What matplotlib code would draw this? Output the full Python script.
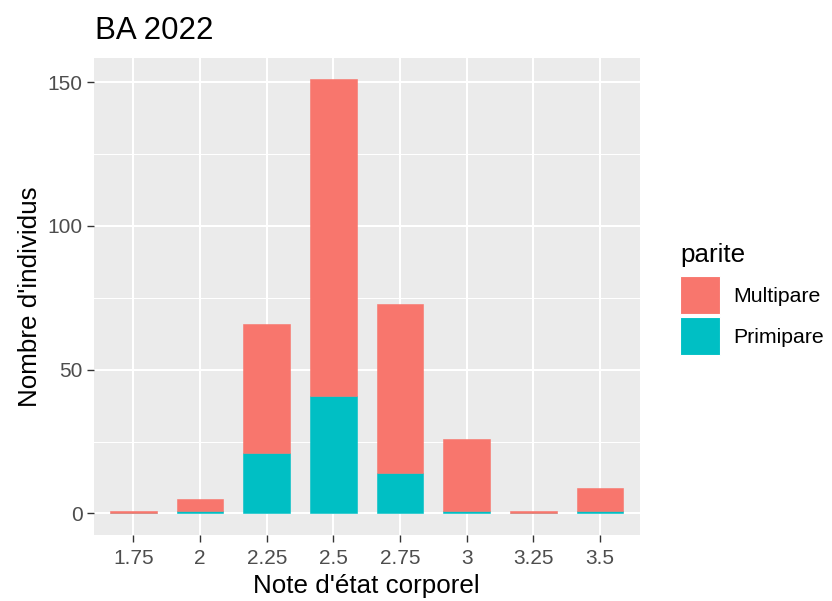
import numpy as np
import matplotlib
matplotlib.use("Agg")
import matplotlib.pyplot as plt
from matplotlib.patches import Rectangle

plt.rcParams["font.family"] = ["Liberation Sans", "DejaVu Sans"]

# Effectifs par note d'état corporel et parité
notes = ["1.75", "2", "2.25", "2.5", "2.75", "3", "3.25", "3.5"]
multipare = [1, 4, 45, 110, 59, 25, 1, 8]
primipare = [0, 1, 21, 41, 14, 1, 0, 1]
groupes = ["Multipare", "Primipare"]
couleurs = {"Multipare": "#F8766D", "Primipare": "#00BFC4"}

W, H = 832, 601
fig = plt.figure(figsize=(W / 100, H / 100), dpi=100)
fig.patch.set_facecolor("white")

# panneau (coordonnées en pixels converties en fraction)
px_left, px_right, px_top, px_bottom = 93.5, 640, 57.5, 535.2
ax = fig.add_axes([px_left / W, 1 - px_bottom / H,
                   (px_right - px_left) / W, (px_bottom - px_top) / H])
ax.set_facecolor("#EBEBEB")
for s in ax.spines.values():
    s.set_visible(False)

x = np.arange(len(notes))
largeur = 0.7
ax.bar(x, primipare, width=largeur, color=couleurs["Primipare"],
       edgecolor=couleurs["Primipare"], linewidth=0.4, zorder=3)
ax.bar(x, multipare, width=largeur, bottom=primipare,
       color=couleurs["Multipare"], edgecolor=couleurs["Multipare"],
       linewidth=0.4, zorder=3)

totaux = np.array(multipare) + np.array(primipare)
ymax = totaux.max()
ax.set_ylim(-0.05 * ymax, ymax * 1.05)
ax.set_xlim(-0.6, len(notes) - 1 + 0.6)

ax.set_yticks([0, 50, 100, 150])
ax.set_yticks([25, 75, 125], minor=True)
ax.set_xticks(x)
ax.set_xticklabels(notes)

ax.grid(which="major", color="white", linewidth=1.5, zorder=0)
ax.grid(which="minor", axis="y", color="white", linewidth=0.75, zorder=0)
ax.set_axisbelow(True)

ax.tick_params(which="major", length=5, width=1.0, color="#333333",
               labelsize=15, labelcolor="#4D4D4D", pad=3)
ax.tick_params(axis="x", which="major", pad=5)
ax.tick_params(which="minor", length=0)

ax.set_xlabel("Note d'état corporel", fontsize=18.7, color="black", labelpad=4)
ax.set_ylabel("Nombre d'individus", fontsize=18.7, color="black", labelpad=4)

fig.text(95 / W, 1 - 39 / H, "BA 2022", fontsize=22.5, color="black",
         ha="left", va="baseline")

# légende
fig.text(680 / W, 1 - 255 / H, "parite", fontsize=18.7, color="black",
         ha="left", va="center")
for i, g in enumerate(groupes):
    y0 = 276 + i * 41
    fig.patches.append(Rectangle((679.5 / W, 1 - (y0 + 37.5) / H), 40 / W, 37.5 / H,
                                 transform=fig.transFigure, facecolor=couleurs[g],
                                 edgecolor="white", linewidth=0.8))
    fig.text(733 / W, 1 - (y0 + 21) / H, g, fontsize=15.3, color="black",
             ha="left", va="center")

fig.savefig("out.png", dpi=100)
